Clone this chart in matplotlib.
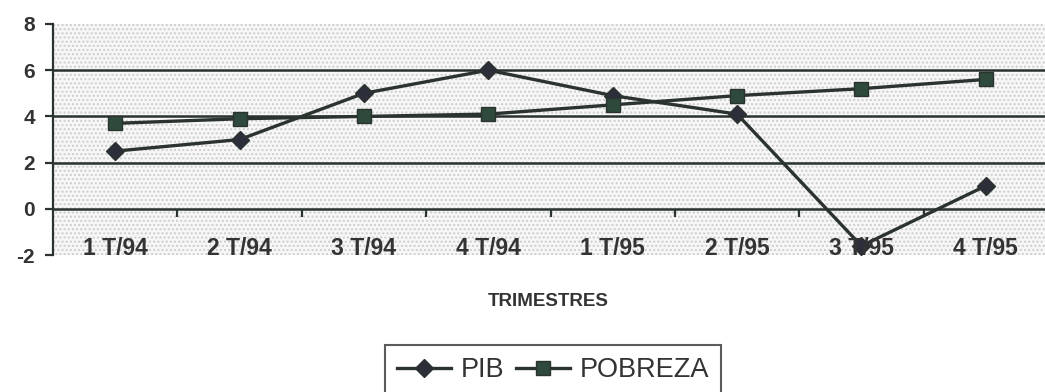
import numpy as np
import matplotlib.pyplot as plt

plt.rcParams['font.family'] = ['Liberation Sans', 'DejaVu Sans']

trimestres = ['1 T/94', '2 T/94', '3 T/94', '4 T/94',
              '1 T/95', '2 T/95', '3 T/95', '4 T/95']
pib = [2.5, 3.0, 5.0, 6.0, 4.9, 4.1, -1.6, 1.0]
pobreza = [3.7, 3.9, 4.0, 4.1, 4.5, 4.9, 5.2, 5.6]
y_ticks = [-2, 0, 2, 4, 6, 8]

ink = '#2b332f'
fig = plt.figure(figsize=(10.45, 3.92), dpi=100)
ax = fig.add_axes([53 / 1045, 0.349, 995 / 1045, 0.590])

x = np.arange(len(trimestres))
ax.set_xlim(-0.5, len(trimestres) - 0.5)
ax.set_ylim(-2, 8)

# grey dotted plot area
ax.set_facecolor('#f7f7f7')
ax.fill_between([-0.5, len(trimestres) - 0.5], -2, 8, facecolor='none',
                edgecolor='#cdcdcd', hatch='....', linewidth=0, zorder=0)

for yv in [2, 4, 6]:
    ax.axhline(yv, color=ink, lw=1.8, zorder=1)

ax.plot(x, pib, color=ink, lw=2.4, marker='D', markersize=9,
        markerfacecolor='#2c2f3a', markeredgecolor=ink, label='PIB', zorder=3)
ax.plot(x, pobreza, color=ink, lw=2.4, marker='s', markersize=9.5,
        markerfacecolor='#2e4a3c', markeredgecolor=ink, label='POBREZA', zorder=3)

# category axis crosses at zero, labels stay at the bottom
for s in ['top', 'right']:
    ax.spines[s].set_visible(False)
ax.spines['bottom'].set_position(('data', 0))
ax.spines['bottom'].set_linewidth(1.8)
ax.spines['bottom'].set_color(ink)
ax.spines['left'].set_linewidth(1.6)
ax.spines['left'].set_color(ink)

ax.set_xticks(np.arange(0.5, len(trimestres) - 0.5, 1.0))
ax.set_xticklabels([])
ax.tick_params(axis='x', direction='out', length=6, width=1.6, color=ink)
for xi, lab in zip(x, trimestres):
    ax.text(xi, -1.72, lab, ha='center', va='center', fontsize=16.5,
            fontweight='bold', color='#333333', zorder=4)

ax.set_yticks(y_ticks)
ax.set_yticklabels([str(v) for v in y_ticks], fontsize=15, fontweight='bold',
                   color='#333333')
ax.tick_params(axis='y', direction='out', length=6, width=1.6, color=ink, pad=7)

fig.text(548 / 1045, 1 - 302 / 392, 'TRIMESTRES', ha='center', va='center',
         fontsize=13.5, fontweight='bold', color='#333333')

leg = fig.legend(loc='upper center', bbox_to_anchor=(553 / 1045, 1 - 345 / 392),
                 ncol=2, fontsize=19.5, frameon=True, fancybox=False,
                 handlelength=2.0, handletextpad=0.35, columnspacing=0.45,
                 borderpad=0.45, borderaxespad=0, edgecolor='#333333')
leg.get_frame().set_linewidth(1.5)
for t in leg.get_texts():
    t.set_color('#333333')

fig.savefig('out.png', dpi=100)
